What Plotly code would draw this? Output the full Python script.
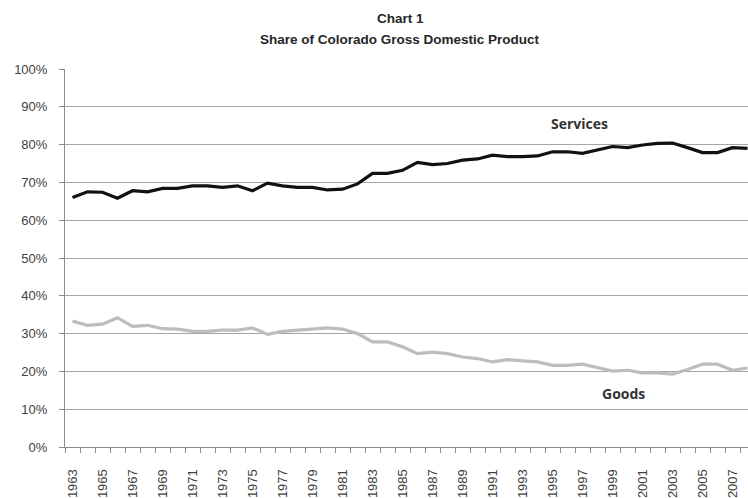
import plotly.graph_objects as go

years = list(range(1963, 2009))
services = [66.0, 67.5, 67.4, 65.8, 67.8, 67.5, 68.4, 68.4, 69.1, 69.1,
            68.7, 69.1, 67.8, 69.8, 69.1, 68.7, 68.7, 68.0, 68.2, 69.6,
            72.4, 72.4, 73.2, 75.3, 74.7, 75.0, 75.9, 76.2, 77.2, 76.8,
            76.8, 77.0, 78.1, 78.1, 77.7, 78.5, 79.5, 79.2, 79.9, 80.3,
            80.4, 79.2, 77.9, 77.9, 79.2, 79.0]
goods = [33.3, 32.2, 32.5, 34.2, 31.9, 32.2, 31.3, 31.2, 30.6, 30.6,
         30.9, 30.9, 31.5, 29.8, 30.6, 30.9, 31.0, 31.5, 31.2, 30.0,
         27.8, 27.8, 26.5, 24.7, 25.1, 24.7, 23.8, 23.4, 22.5, 23.1,
         22.8, 22.5, 21.6, 21.6, 21.9, 20.9, 20.1, 20.3, 19.6, 19.6,
         19.3, 20.5, 21.9, 21.9, 20.3, 20.9]
tick_years = list(range(1963, 2008, 2))
y_ticks = [0, 10, 20, 30, 40, 50, 60, 70, 80, 90, 100]

fig = go.Figure()
fig.add_trace(go.Scatter(x=years, y=services, mode="lines", name="Services",
                         line=dict(color="#111111", width=3.2)))
fig.add_trace(go.Scatter(x=years, y=goods, mode="lines", name="Goods",
                         line=dict(color="#bdbdbd", width=3.2)))

W, H = 748, 498
pl, pr, pt, pb = 65, 0, 69, 51
pw, ph = W - pl - pr, H - pt - pb

font_fam = "Arial, Liberation Sans, sans-serif"
fig.update_layout(
    width=W, height=H,
    margin=dict(l=pl, r=pr, t=pt, b=pb),
    paper_bgcolor="white", plot_bgcolor="white",
    showlegend=False,
    font=dict(family=font_fam, size=13, color="#404040"),
    xaxis=dict(
        range=[1962.5, 1962.5 + pw / 15.0],
        tickmode="array", tickvals=tick_years, ticktext=[str(y) for y in tick_years],
        tickangle=-90, ticks="", showgrid=False, zeroline=False,
        showline=True, linecolor="#8c8c8c", linewidth=1,
        tickfont=dict(size=13, color="#404040"),
        ticklabelstandoff=16,
        minor=dict(ticks="outside", ticklen=5, tickcolor="#8c8c8c", tick0=1962.5, dtick=1, showgrid=False),
    ),
    yaxis=dict(
        range=[0, 100], tickmode="array", tickvals=y_ticks,
        ticktext=[f"{v}%" for v in y_ticks],
        showgrid=True, gridcolor="#a6a6a6", gridwidth=1,
        zeroline=False, showline=True, linecolor="#8c8c8c", linewidth=1,
        ticks="outside", ticklen=5, tickcolor="#8c8c8c",
        tickfont=dict(size=13, color="#404040"),
        ticklabelstandoff=9,
    ),
    annotations=[
        dict(text="<b>Chart 1</b>", x=(400 - pl) / pw, y=1 + (pt - 18) / ph,
             xref="paper", yref="paper", xanchor="center", yanchor="middle",
             showarrow=False, font=dict(size=13.5, color="#262626")),
        dict(text="<b>Share of Colorado Gross Domestic Product</b>",
             x=(400 - pl) / pw, y=1 + (pt - 40) / ph,
             xref="paper", yref="paper", xanchor="center", yanchor="middle",
             showarrow=False, font=dict(size=13.5, color="#262626")),
        dict(text="<b>Services</b>", x=1996.8, y=85.5, xref="x", yref="y",
             showarrow=False, font=dict(family="Open Sans, sans-serif", size=14, color="#333333")),
        dict(text="<b>Goods</b>", x=1999.7, y=14.2, xref="x", yref="y",
             showarrow=False, font=dict(family="Open Sans, sans-serif", size=14, color="#333333")),
    ],
)

fig.write_html("out.html")
